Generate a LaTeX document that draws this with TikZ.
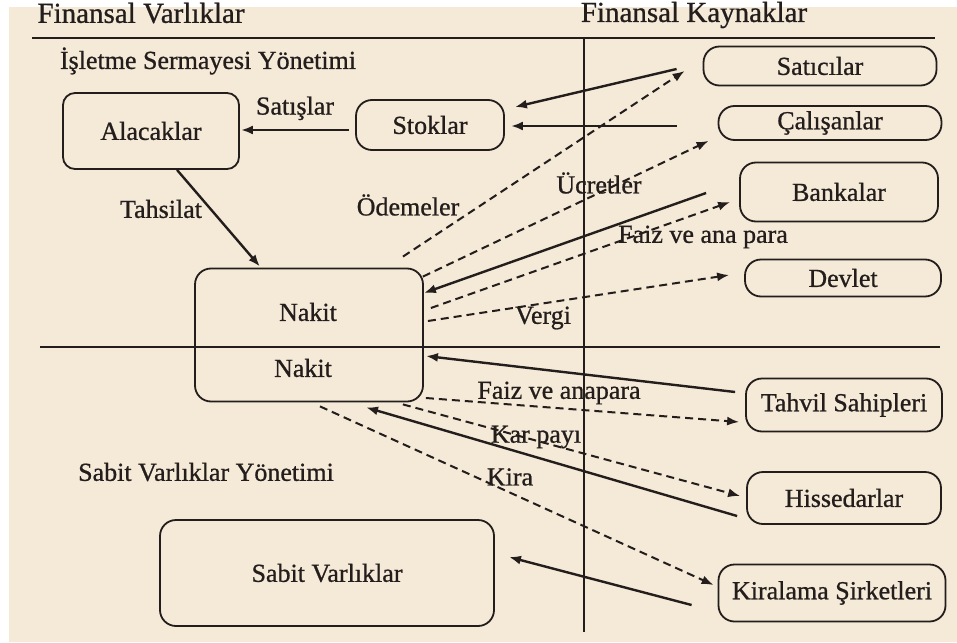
\documentclass[tikz,border=0pt]{standalone}
\usepackage{fontspec}
\setmainfont{Liberation Serif}
\newfontfamily\scanfont{Liberation Serif}[FakeBold=0.8]
\usetikzlibrary{arrows.meta,calc}
\definecolor{paper}{RGB}{245,233,216}
\definecolor{ink}{RGB}{35,30,28}

\begin{document}
\begin{tikzpicture}[x=0.5pt,y=-0.5pt,>={Latex[length=6pt,width=4.5pt]},
    every node/.style={text=ink,font=\scanfont\fontsize{13}{15}\selectfont},
    heading/.style={font=\scanfont\fontsize{14.5}{16}\selectfont},
    box/.style={draw=ink,line width=0.9pt,rounded corners=8pt,inner sep=0pt},
    flow/.style={->,draw=ink,line width=1.2pt},
    pay/.style={->,draw=ink,line width=1pt,dash pattern=on 4pt off 2.5pt}]
    \useasboundingbox (0,0) rectangle (957,642);
    \fill[white] (0,0) rectangle (957,642);
    \fill[paper] (9,7) rectangle (957,642);

    % dividers
    \draw[ink,line width=1.2pt] (32,38) -- (935,38);
    \draw[ink,line width=1.2pt] (40,347) -- (940,347);
    \draw[ink,line width=1.3pt] (584,38) -- (584,632);

    % headings
    \node[heading] (varlik) at (141,13) {Finansal Varlıklar};
    \node[heading] (kaynak) at (694,15) {Finansal Kaynaklar};
    \node (isletme) at (208,61) {İşletme Sermayesi Yönetimi};
    \node (sabity) at (206,472) {Sabit Varlıklar Yönetimi};

    % assets
    \node[box, rounded corners=6pt, minimum width=88pt, minimum height=38pt] (alac) at (151,131) {Alacaklar};
    \node[box, minimum width=74pt, minimum height=25pt] (stok) at (430,125) {Stoklar};
    \node[box, minimum width=114pt, minimum height=66.5pt] (nakit) at (309,335) {};
    \node (nakitA) at (308,312) {Nakit};
    \node (nakitB) at (303,368) {Nakit};
    \node[box, minimum width=167pt, minimum height=53pt] (sabit) at (327,573) {Sabit Varlıklar};

    % sources
    \node[box, minimum width=116.5pt, minimum height=19.5pt] (sat) at (820,66) {Satıcılar};
    \node[box, minimum width=111.5pt, minimum height=17pt] (cal) at (830,123) {Çalışanlar};
    \node[box, minimum width=99pt, minimum height=29.5pt] (bank) at (839,192) {Bankalar};
    \node[box, minimum width=98pt, minimum height=18.5pt] (devlet) at (843,278) {Devlet};
    \node[box, minimum width=98pt, minimum height=26.5pt] (tahvil) at (844,405) {Tahvil Sahipleri};
    \node[box, minimum width=97pt, minimum height=26pt] (hisse) at (844,498) {Hissedarlar};
    \node[box, minimum width=113.5pt, minimum height=28.5pt] (kira) at (832,593) {Kiralama Şirketleri};

    % working capital flows
    \draw[flow] ($(stok.west)+(-6,5)$) -- node[above=1pt] {Satışlar} ($(alac.east)+(1,-1)$);
    \draw[flow] ($(alac.south)+(26,0)$) -- ($(nakit.north)+(-49,-1)$);
    \node at (161,209) {Tahsilat};
    \draw[flow] ($(sat.west)+(-26,3)$) -- ($(stok.east)+(10,-18)$);
    \draw[flow] ($(cal.west)+(-41,3)$) -- ($(stok.east)+(6,1)$);
    \draw[flow] ($(bank.west)+(-33,1)$) -- ($(nakit.east)+(0,-42)$);
    \draw[pay] ($(nakit.north east)+(-21,-11)$) -- ($(sat.west)+(-18,5)$);
    \node at (408,205) {Ödemeler};
    \draw[pay] ($(nakit.north east)+(-1,9)$) -- ($(cal.south west)+(-9,0)$);
    \node at (599,183) {Ücretler};
    \draw[pay] ($(nakit.east)+(7,-27)$) -- ($(bank.west)+(-9,10)$);
    \node at (703,237) {Faiz ve ana para};
    \draw[pay] ($(nakit.east)+(4,-14)$) -- ($(devlet.west)+(-15,-3)$);
    \node at (543,318) {Vergi};

    % fixed asset flows
    \draw[flow] ($(tahvil.west)+(-10,-13)$) -- ($(nakit.east)+(2,21)$);
    \draw[pay] ($(nakit.east)+(2,63)$) -- ($(tahvil.west)+(-6,17)$);
    \node at (559,393) {Faiz ve anapara};
    \draw[flow] ($(hisse.west)+(-9,18)$) -- ($(nakit.south)+(57,5)$);
    \draw[pay] ($(nakit.south east)+(-21,2)$) -- ($(hisse.west)+(-6,-2)$);
    \node at (536,437) {Kar payı};
    \draw[pay] ($(nakit.south)+(11,4)$) -- ($(kira.west)+(-4,-8)$);
    \node at (510,477) {Kira};
    \draw[flow] ($(kira.west)+(-26,12)$) -- ($(sabit.east)+(14,-16)$);
\end{tikzpicture}
\end{document}
